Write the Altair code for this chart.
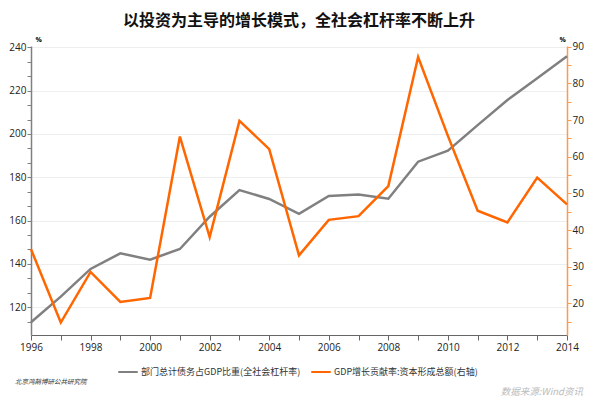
import altair as alt
import pandas as pd

years = list(range(1996, 2015))
leverage = [113.1, 124.9, 137.7, 144.9, 142.0, 146.9, 161.8, 174.1, 170.0, 163.1,
            171.4, 172.1, 170.1, 187.2, 192.3, 204.1, 215.7, 225.7, 235.9]
capital = [34.8, 14.8, 28.6, 20.4, 21.5, 65.5, 38.1, 69.8, 62.1, 33.1,
           42.8, 43.8, 52.0, 87.2, 65.7, 45.3, 42.1, 54.3, 47.0]

name_left = "部门总计债务占GDP比重(全社会杠杆率)"
name_right = "GDP增长贡献率:资本形成总额(右轴)"
title_text = "以投资为主导的增长模式，全社会杠杆率不断上升"
source_text = "数据来源:Wind资讯"
org_text = "北京鸿鹄博研公共研究院"

df = pd.DataFrame({"year": years, "leverage": leverage, "capital": capital})
df["s1"] = name_left
df["s2"] = name_right

CJK = "Noto Sans CJK SC"
GRAY = "#808080"
ORANGE = "#FF6600"

left_vals = [round(240 - k * 20 / 3, 3) for k in range(20)]
right_vals = list(range(15, 95, 5))

color_scale = alt.Scale(domain=[name_left, name_right], range=[GRAY, ORANGE])

xenc = alt.X("year:Q", scale=alt.Scale(domain=[1996, 2014], nice=False),
             axis=alt.Axis(values=years, title=None, grid=False,
                           labelExpr="datum.value % 2 === 0 ? format(datum.value, 'd') : ''",
                           labelFont="Open Sans", labelFontSize=10, labelColor="#222",
                           domainColor="#666", tickColor="#666", tickSize=5,
                           labelPadding=2, labelFlush=False))

legend = alt.Legend(title=None, orient="none", legendX=86, legendY=315,
                    direction="horizontal", symbolType="stroke", symbolStrokeWidth=2,
                    symbolSize=380, labelFont=CJK, labelFontSize=9, labelColor="#333",
                    columnPadding=6, labelOffset=2)

left = alt.Chart(df).mark_line(strokeWidth=2.5).encode(
    x=xenc,
    y=alt.Y("leverage:Q", scale=alt.Scale(domain=[107.2, 240.6], nice=False, zero=False),
            axis=alt.Axis(orient="left", values=left_vals, title="%", titleAngle=0,
                          titleX=4, titleY=-4, titleAlign="left", titleFontSize=7,
                          titleFont="Open Sans", titleFontWeight="bold",
                          labelExpr="abs(datum.value - round(datum.value/20)*20) < 0.01 ? format(datum.value, 'd') : ''",
                          labelFont="Open Sans", labelFontSize=10, labelColor="#222",
                          domainColor=GRAY, domainWidth=1.5, tickColor=GRAY, tickSize=4,
                          labelPadding=1,
                          grid=True, gridColor="#eeeeee",
                          gridOpacity=alt.ExprRef("abs(datum.value - round(datum.value/20)*20) < 0.01 ? 1 : 0"))),
    color=alt.Color("s1:N", scale=color_scale, legend=legend),
)

right = alt.Chart(df).mark_line(strokeWidth=2.5).encode(
    x=xenc,
    y=alt.Y("capital:Q", scale=alt.Scale(domain=[11.4, 90.2], nice=False, zero=False),
            axis=alt.Axis(orient="right", values=right_vals, title="%", titleAngle=0,
                          titleX=-8, titleY=-4, titleAlign="left", titleFontSize=7,
                          titleFont="Open Sans", titleFontWeight="bold",
                          labelExpr="datum.value % 10 === 0 ? format(datum.value, 'd') : ''",
                          labelFont="Open Sans", labelFontSize=10, labelColor="#222",
                          domainColor="#FF9A4D", domainWidth=1.5, tickColor="#FF9A4D", tickSize=4,
                          labelPadding=1, grid=False)),
    color=alt.Color("s2:N", scale=color_scale, legend=legend),
)

title = alt.Chart(pd.DataFrame({"t": [title_text]})).mark_text(
    font=CJK, fontSize=16, fontWeight="bold", color="#111",
    align="center", baseline="middle").encode(
    text="t:N", x=alt.value(268), y=alt.value(-25))
org = alt.Chart(pd.DataFrame({"t": [org_text]})).mark_text(
    font=CJK, fontSize=6.5, fontStyle="italic", color="#333",
    align="left", baseline="middle").encode(
    text="t:N", x=alt.value(-16), y=alt.value(336))
src = alt.Chart(pd.DataFrame({"t": [source_text]})).mark_text(
    font=CJK, fontSize=9.5, fontStyle="italic", color="#bbbbbb",
    align="right", baseline="middle").encode(
    text="t:N", x=alt.value(552), y=alt.value(346))

chart = alt.layer(left, right, title, org, src).resolve_scale(y="independent").properties(
    width=536, height=289,
    autosize=alt.AutoSizeParams(type="none"),
    padding={"left": 23, "top": 38, "right": 25, "bottom": 68},
).configure_view(stroke=None)

chart.save("out.html", embed_options={"renderer": "svg", "actions": False})
